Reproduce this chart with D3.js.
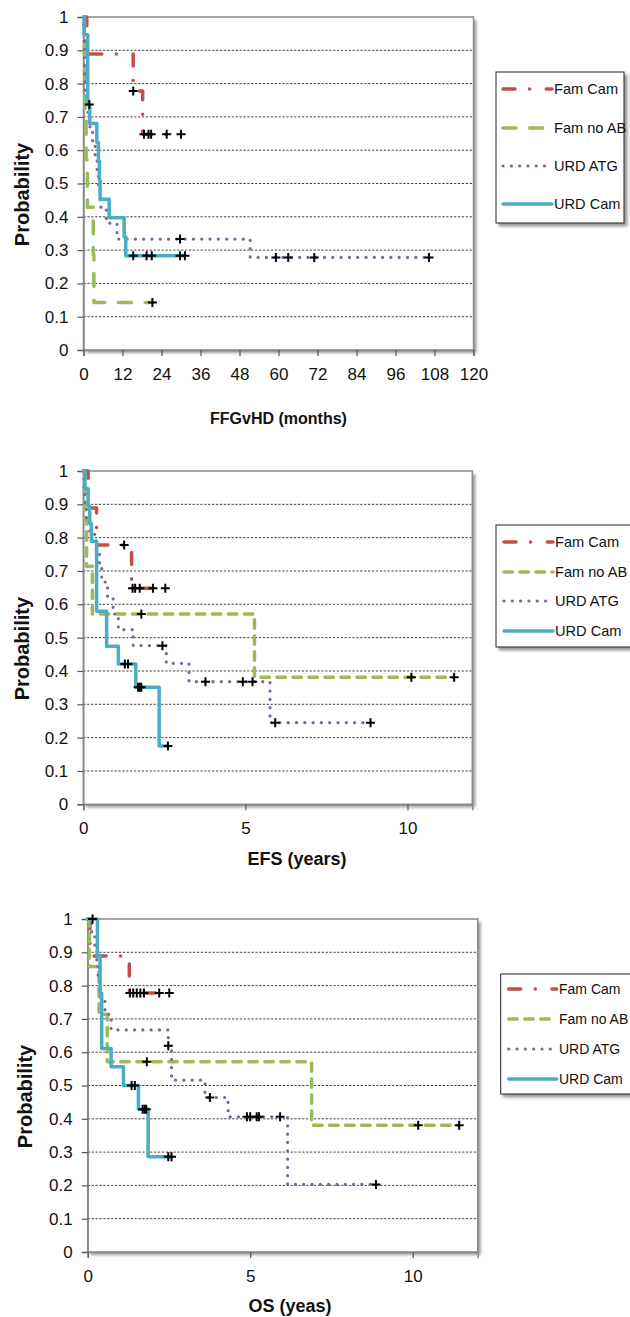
<!DOCTYPE html>
<html><head><meta charset="utf-8">
<script src="https://cdn.jsdelivr.net/npm/d3@7"></script>
<style>
body{margin:0;background:#fff;}
svg{display:block;font-family:"Liberation Sans",Arial,Helvetica,sans-serif;}
</style></head><body>
<svg id="c" width="630" height="1317"></svg>
<script>
// ---------- shared ----------
const seriesNames = ["Fam Cam", "Fam no AB", "URD ATG", "URD Cam"];
const probTicks = [0, 0.1, 0.2, 0.3, 0.4, 0.5, 0.6, 0.7, 0.8, 0.9, 1];
const yTitle = "Probability";

// ---------- panel 1: FFGvHD (months) ----------
const ffgTicks = [0, 12, 24, 36, 48, 60, 72, 84, 96, 108, 120];
const ffgTitle = "FFGvHD (months)";
const ffgFamCamT = [0, 1, 15.3, 18.2];
const ffgFamCamS = [1, 0.889, 0.778, 0.648];
const ffgFamCamC = [15.3, 18.6, 20.0, 20.8, 25.6, 30.0];
const ffgFamNoABT = [0, 0.3, 0.5, 0.8, 1.2, 3.0, 3.2];
const ffgFamNoABS = [1, 0.857, 0.714, 0.571, 0.429, 0.286, 0.143];
const ffgFamNoABC = [21.2];
const ffgUrdAtgT = [0, 0.1, 0.2, 0.3, 0.4, 0.5, 1.2, 2.0, 2.8, 3.6, 4.2, 4.6, 5.1, 7.0, 10.3, 51.3];
const ffgUrdAtgS = [1, 0.952, 0.905, 0.857, 0.810, 0.762, 0.714, 0.667, 0.619, 0.571, 0.524, 0.476, 0.429, 0.381, 0.333, 0.278];
const ffgUrdAtgC = [29.7, 59.2, 63.0, 71.0, 106.3];
const ffgUrdCamT = [0, 0.2, 1.3, 1.9, 4.1, 4.6, 4.9, 5.1, 7.9, 12.5, 13.0];
const ffgUrdCamS = [1, 0.947, 0.737, 0.680, 0.623, 0.567, 0.510, 0.453, 0.397, 0.340, 0.283];
const ffgUrdCamC = [1.8, 15.3, 19.4, 21.0, 29.7, 31.2];

// ---------- panel 2: EFS (years) ----------
const efsTicks = [0, 5, 10];
const efsTitle = "EFS (years)";
const efsFamCamT = [0, 0.15, 0.41, 1.49];
const efsFamCamS = [1, 0.889, 0.778, 0.648];
const efsFamCamC = [1.26, 1.52, 1.60, 1.74, 2.15, 2.53];
const efsFamNoABT = [0, 0.05, 0.1, 0.28, 5.28];
const efsFamNoABS = [1, 0.857, 0.714, 0.571, 0.381];
const efsFamNoABC = [1.79, 10.12, 11.44];
const efsUrdAtgT = [0, 0.02, 0.05, 0.1, 0.2, 0.4, 0.5, 0.57, 0.75, 0.92, 1.08, 1.54, 2.56, 3.26, 5.76];
const efsUrdAtgS = [1, 0.952, 0.905, 0.857, 0.810, 0.762, 0.714, 0.667, 0.619, 0.571, 0.524, 0.476, 0.423, 0.368, 0.245];
const efsUrdAtgC = [2.44, 3.77, 4.92, 5.22, 5.92, 8.86];
const efsUrdCamT = [0, 0.05, 0.15, 0.2, 0.25, 0.41, 0.72, 1.08, 1.62, 2.34];
const efsUrdCamS = [1, 0.947, 0.895, 0.842, 0.789, 0.579, 0.474, 0.421, 0.351, 0.175];
const efsUrdCamC = [1.28, 1.38, 1.69, 1.74, 1.79, 2.61];

// ---------- panel 3: OS (yeas) ----------
const osTicks = [0, 5, 10];
const osTitle = "OS (yeas)";
const osFamCamT = [0, 0.07, 1.28];
const osFamCamS = [1, 0.889, 0.778];
const osFamCamC = [1.30, 1.40, 1.51, 1.62, 1.73, 2.20, 2.51];
const osFamNoABT = [0, 0.05, 0.35, 0.6, 6.89];
const osFamNoABS = [1, 0.857, 0.714, 0.571, 0.381];
const osFamNoABC = [1.82, 10.17, 11.43];
const osUrdAtgT = [0, 0.12, 0.22, 0.28, 0.32, 0.4, 0.53, 0.72, 2.48, 2.58, 3.61, 4.32, 6.15];
const osUrdAtgS = [1, 0.952, 0.905, 0.857, 0.810, 0.762, 0.714, 0.667, 0.619, 0.516, 0.464, 0.406, 0.203];
const osUrdAtgC = [2.48, 3.76, 4.90, 5.00, 5.20, 5.27, 5.92, 8.87];
const osUrdCamT = [0, 0.3, 0.38, 0.43, 0.72, 1.1, 1.56, 1.86];
const osUrdCamS = [1, 0.889, 0.778, 0.611, 0.556, 0.5, 0.429, 0.286];
const osUrdCamC = [0.15, 1.35, 1.45, 1.69, 1.75, 1.80, 2.48, 2.58];

// ---------- styles ----------
const colors = ["#C0504D", "#9BBB59", "#8064A2", "#4BACC6"];
const FONT = '"Liberation Sans", Arial, Helvetica, sans-serif';

const svg = d3.select("#c");
const defs = svg.append("defs");
const f = defs.append("filter").attr("id", "sh").attr("x", "-10%").attr("y", "-10%").attr("width", "125%").attr("height", "125%");
f.append("feDropShadow").attr("dx", 3).attr("dy", 3).attr("stdDeviation", 1.8)
  .attr("flood-color", "#000").attr("flood-opacity", 0.4);

function survAt(T, S, c) {
  let v = S[0];
  for (let j = 0; j < T.length; j++) if (T[j] <= c) v = S[j];
  return v;
}

function drawPanel(p) {
  const g = svg.append("g");
  const x = d3.scaleLinear().domain([0, p.xMax]).range([p.x0, p.x1]);
  const y = d3.scaleLinear().domain([0, 1]).range([p.yB, p.yT]);

  g.append("rect").attr("x", p.x0).attr("y", p.yT).attr("width", p.x1 - p.x0).attr("height", p.yB - p.yT)
    .attr("fill", "#fff").attr("filter", "url(#sh)");

  g.selectAll(null).data(probTicks.filter(v => v > 0 && v < 1)).enter().append("line")
    .attr("x1", p.x0).attr("x2", p.x1).attr("y1", d => y(d)).attr("y2", d => y(d))
    .attr("stroke", "#444").attr("stroke-width", 1).attr("stroke-dasharray", "2.3,1.6");

  g.append("rect").attr("x", p.x0).attr("y", p.yT).attr("width", p.x1 - p.x0).attr("height", p.yB - p.yT)
    .attr("fill", "none").attr("stroke", "#8a8a8a").attr("stroke-width", 1.5);

  const ya = g.append("g").attr("transform", `translate(${p.x0},0)`)
    .call(d3.axisLeft(y).tickValues(probTicks).tickSize(6).tickPadding(9)
      .tickFormat(d => String(+d.toFixed(1))));
  ya.select(".domain").attr("stroke", "#8a8a8a").attr("stroke-width", 1.5);
  ya.selectAll(".tick line").attr("stroke", "#555").attr("stroke-width", 1.2);
  ya.selectAll(".tick text").attr("font-size", 17).attr("font-family", FONT).attr("fill", "#111");

  const xa = g.append("g").attr("transform", `translate(0,${p.yB})`)
    .call(d3.axisBottom(x).tickValues(p.ticks).tickSize(6).tickPadding(6).tickFormat(d => String(d)));
  xa.select(".domain").attr("stroke", "#8a8a8a").attr("stroke-width", 1.5);
  xa.selectAll(".tick line").attr("stroke", "#555").attr("stroke-width", 1.2);
  xa.selectAll(".tick text").attr("font-size", 17).attr("font-family", FONT).attr("fill", "#111")
    .attr("dy", null).attr("y", 29.5);

  g.append("text").attr("transform", `translate(${p.yTitleX},${(p.yT + p.yB) / 2 + 11}) rotate(-90)`)
    .attr("text-anchor", "middle").attr("font-size", 20).attr("font-weight", "bold").attr("fill", "#111")
    .text(yTitle);
  g.append("text").attr("x", p.xTitleX).attr("y", p.xTitleY).attr("text-anchor", "middle")
    .attr("font-size", p.xTitleSize).attr("font-weight", "bold").attr("fill", "#111").text(p.title);

  const line = d3.line().x(d => x(d[0])).y(d => y(d[1])).curve(d3.curveStepAfter);
  p.series.forEach((s, i) => {
    const pts = s.T.map((t, j) => [t, s.S[j]]);
    const end = d3.max(s.C.concat(s.T));
    pts.push([end, s.S[s.S.length - 1]]);
    g.append("path").attr("d", line(pts)).attr("fill", "none")
      .attr("stroke", colors[i]).attr("stroke-width", p.dash[i].w)
      .attr("stroke-linecap", "round").attr("stroke-linejoin", "round")
      .attr("stroke-dasharray", p.dash[i].d);
  });

  p.series.forEach(s => {
    g.selectAll(null).data(s.C).enter().append("path")
      .attr("transform", c => `translate(${x(c)},${y(survAt(s.T, s.S, c))})`)
      .attr("d", "M-4.5,0H4.5M0,-4.5V4.5").attr("stroke", "#000").attr("stroke-width", 2).attr("fill", "none");
  });

  const L = p.legend;
  g.append("rect").attr("x", L.x).attr("y", L.y).attr("width", L.w).attr("height", L.h)
    .attr("fill", "#fff").attr("stroke", "#222").attr("stroke-width", 1).attr("filter", "url(#sh)");
  seriesNames.forEach((n, i) => {
    const ly = L.rows[i];
    g.append("line").attr("x1", L.lx0).attr("x2", L.lx1).attr("y1", ly).attr("y2", ly)
      .attr("stroke", colors[i]).attr("stroke-width", p.dash[i].w)
      .attr("stroke-linecap", "round").attr("stroke-dasharray", p.dash[i].d);
    g.append("text").attr("x", L.tx).attr("y", ly).attr("dy", "0.35em").attr("font-size", L.fs)
      .attr("fill", "#111").text(n);
  });
}

const dashA = [
  {w: 3.5, d: "12,14.5,0.1,16.7"},
  {w: 3.5, d: "13,13.7"},
  {w: 3.2, d: "0.1,8.2"},
  {w: 3.5, d: null}
];
const dashB = [
  {w: 3.5, d: "12,14.5,0.1,16.7"},
  {w: 3.5, d: "8.5,7.5"},
  {w: 3.2, d: "0.1,8.2"},
  {w: 3.5, d: null}
];

drawPanel({
  x0: 83.5, x1: 473.5, yT: 17, yB: 350, xMax: 120, ticks: ffgTicks, title: ffgTitle,
  yTitleX: 29, xTitleX: 278.5, xTitleY: 424, xTitleSize: 16, dash: dashA,
  series: [
    {T: ffgFamCamT, S: ffgFamCamS, C: ffgFamCamC},
    {T: ffgFamNoABT, S: ffgFamNoABS, C: ffgFamNoABC},
    {T: ffgUrdAtgT, S: ffgUrdAtgS, C: ffgUrdAtgC},
    {T: ffgUrdCamT, S: ffgUrdCamS, C: ffgUrdCamC}
  ],
  legend: {x: 496, y: 72, w: 128, h: 151, lx0: 503, lx1: 552, tx: 554, fs: 14.6, rows: [89, 128, 166, 204]}
});

drawPanel({
  x0: 83.3, x1: 472.3, yT: 471, yB: 804.3, xMax: 12, ticks: efsTicks, title: efsTitle,
  yTitleX: 29, xTitleX: 297, xTitleY: 865, xTitleSize: 18, dash: dashB,
  series: [
    {T: efsFamCamT, S: efsFamCamS, C: efsFamCamC},
    {T: efsFamNoABT, S: efsFamNoABS, C: efsFamNoABC},
    {T: efsUrdAtgT, S: efsUrdAtgS, C: efsUrdAtgC},
    {T: efsUrdCamT, S: efsUrdCamS, C: efsUrdCamC}
  ],
  legend: {x: 496, y: 525, w: 200, h: 122, lx0: 504, lx1: 553, tx: 555, fs: 14.6, rows: [542, 572, 601, 631]}
});

drawPanel({
  x0: 87.7, x1: 477.7, yT: 919, yB: 1252, xMax: 12, ticks: osTicks, title: osTitle,
  yTitleX: 32, xTitleX: 290, xTitleY: 1312, xTitleSize: 18, dash: dashB,
  series: [
    {T: osFamCamT, S: osFamCamS, C: osFamCamC},
    {T: osFamNoABT, S: osFamNoABS, C: osFamNoABC},
    {T: osUrdAtgT, S: osUrdAtgS, C: osUrdAtgC},
    {T: osUrdCamT, S: osUrdCamS, C: osUrdCamC}
  ],
  legend: {x: 500.7, y: 974, w: 200, h: 120, lx0: 508.7, lx1: 556.7, tx: 559, fs: 14, rows: [989, 1019, 1049, 1079]}
});
</script>
</body></html>
